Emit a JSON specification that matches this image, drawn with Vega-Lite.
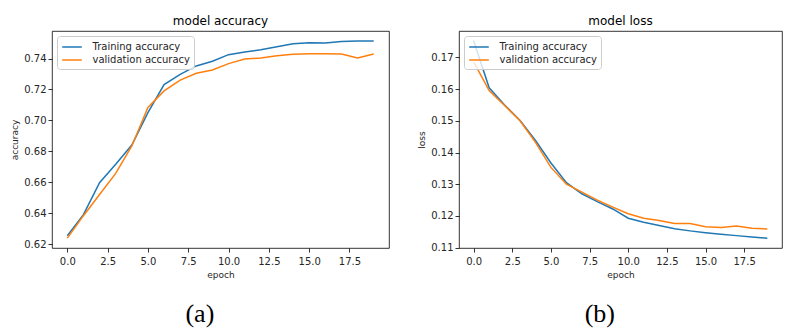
{
  "$schema": "https://vega.github.io/schema/vega-lite/v6.json",
  "padding": {"left": 10, "top": 14, "right": 2, "bottom": 0},
  "background": "white",
  "datasets": {
    "acc": [
      {"epoch": 0, "series": "Training accuracy", "value": 0.6254},
      {"epoch": 1, "series": "Training accuracy", "value": 0.6391},
      {"epoch": 2, "series": "Training accuracy", "value": 0.6597},
      {"epoch": 3, "series": "Training accuracy", "value": 0.6716},
      {"epoch": 4, "series": "Training accuracy", "value": 0.6841},
      {"epoch": 5, "series": "Training accuracy", "value": 0.7050},
      {"epoch": 6, "series": "Training accuracy", "value": 0.7232},
      {"epoch": 7, "series": "Training accuracy", "value": 0.7298},
      {"epoch": 8, "series": "Training accuracy", "value": 0.7352},
      {"epoch": 9, "series": "Training accuracy", "value": 0.7382},
      {"epoch": 10, "series": "Training accuracy", "value": 0.7425},
      {"epoch": 11, "series": "Training accuracy", "value": 0.7442},
      {"epoch": 12, "series": "Training accuracy", "value": 0.7457},
      {"epoch": 13, "series": "Training accuracy", "value": 0.7476},
      {"epoch": 14, "series": "Training accuracy", "value": 0.7495},
      {"epoch": 15, "series": "Training accuracy", "value": 0.7502},
      {"epoch": 16, "series": "Training accuracy", "value": 0.7500},
      {"epoch": 17, "series": "Training accuracy", "value": 0.7510},
      {"epoch": 18, "series": "Training accuracy", "value": 0.7514},
      {"epoch": 19, "series": "Training accuracy", "value": 0.7514},
      {"epoch": 0, "series": "validation accuracy", "value": 0.6239},
      {"epoch": 1, "series": "validation accuracy", "value": 0.6384},
      {"epoch": 2, "series": "validation accuracy", "value": 0.6521},
      {"epoch": 3, "series": "validation accuracy", "value": 0.6657},
      {"epoch": 4, "series": "validation accuracy", "value": 0.6835},
      {"epoch": 5, "series": "validation accuracy", "value": 0.7084},
      {"epoch": 6, "series": "validation accuracy", "value": 0.7191},
      {"epoch": 7, "series": "validation accuracy", "value": 0.7260},
      {"epoch": 8, "series": "validation accuracy", "value": 0.7305},
      {"epoch": 9, "series": "validation accuracy", "value": 0.7326},
      {"epoch": 10, "series": "validation accuracy", "value": 0.7367},
      {"epoch": 11, "series": "validation accuracy", "value": 0.7397},
      {"epoch": 12, "series": "validation accuracy", "value": 0.7403},
      {"epoch": 13, "series": "validation accuracy", "value": 0.7418},
      {"epoch": 14, "series": "validation accuracy", "value": 0.7427},
      {"epoch": 15, "series": "validation accuracy", "value": 0.7431},
      {"epoch": 16, "series": "validation accuracy", "value": 0.7431},
      {"epoch": 17, "series": "validation accuracy", "value": 0.7429},
      {"epoch": 18, "series": "validation accuracy", "value": 0.7403},
      {"epoch": 19, "series": "validation accuracy", "value": 0.7429}
    ],
    "loss": [
      {"epoch": 0, "series": "Training accuracy", "value": 0.1752},
      {"epoch": 1, "series": "Training accuracy", "value": 0.1604},
      {"epoch": 2, "series": "Training accuracy", "value": 0.1550},
      {"epoch": 3, "series": "Training accuracy", "value": 0.1501},
      {"epoch": 4, "series": "Training accuracy", "value": 0.1438},
      {"epoch": 5, "series": "Training accuracy", "value": 0.1367},
      {"epoch": 6, "series": "Training accuracy", "value": 0.1305},
      {"epoch": 7, "series": "Training accuracy", "value": 0.1270},
      {"epoch": 8, "series": "Training accuracy", "value": 0.1245},
      {"epoch": 9, "series": "Training accuracy", "value": 0.1222},
      {"epoch": 10, "series": "Training accuracy", "value": 0.1193},
      {"epoch": 11, "series": "Training accuracy", "value": 0.1180},
      {"epoch": 12, "series": "Training accuracy", "value": 0.1170},
      {"epoch": 13, "series": "Training accuracy", "value": 0.1160},
      {"epoch": 14, "series": "Training accuracy", "value": 0.1153},
      {"epoch": 15, "series": "Training accuracy", "value": 0.1147},
      {"epoch": 16, "series": "Training accuracy", "value": 0.1142},
      {"epoch": 17, "series": "Training accuracy", "value": 0.1138},
      {"epoch": 18, "series": "Training accuracy", "value": 0.1134},
      {"epoch": 19, "series": "Training accuracy", "value": 0.1130},
      {"epoch": 0, "series": "validation accuracy", "value": 0.1686},
      {"epoch": 1, "series": "validation accuracy", "value": 0.1595},
      {"epoch": 2, "series": "validation accuracy", "value": 0.1548},
      {"epoch": 3, "series": "validation accuracy", "value": 0.1500},
      {"epoch": 4, "series": "validation accuracy", "value": 0.1432},
      {"epoch": 5, "series": "validation accuracy", "value": 0.1353},
      {"epoch": 6, "series": "validation accuracy", "value": 0.1300},
      {"epoch": 7, "series": "validation accuracy", "value": 0.1275},
      {"epoch": 8, "series": "validation accuracy", "value": 0.1250},
      {"epoch": 9, "series": "validation accuracy", "value": 0.1228},
      {"epoch": 10, "series": "validation accuracy", "value": 0.1207},
      {"epoch": 11, "series": "validation accuracy", "value": 0.1193},
      {"epoch": 12, "series": "validation accuracy", "value": 0.1186},
      {"epoch": 13, "series": "validation accuracy", "value": 0.1176},
      {"epoch": 14, "series": "validation accuracy", "value": 0.1176},
      {"epoch": 15, "series": "validation accuracy", "value": 0.1166},
      {"epoch": 16, "series": "validation accuracy", "value": 0.1164},
      {"epoch": 17, "series": "validation accuracy", "value": 0.1168},
      {"epoch": 18, "series": "validation accuracy", "value": 0.1161},
      {"epoch": 19, "series": "validation accuracy", "value": 0.1159}
    ]
  },
  "spacing": 27,
  "hconcat": [
    {
      "title": {"text": "(a)", "orient": "bottom", "anchor": "middle", "font": "Liberation Serif", "fontSize": 26, "fontWeight": "normal", "color": "#000", "offset": 22},
      "vconcat": [
        {
          "data": {"name": "acc"},
          "width": 337,
          "height": 217,
          "title": {"text": "model accuracy", "offset": 3},
          "mark": {"type": "line", "strokeWidth": 1.5},
          "encoding": {
            "x": {"field": "epoch", "type": "quantitative", "title": "epoch",
                  "scale": {"domain": [-0.95, 19.95], "nice": false, "zero": false},
                  "axis": {"values": [0, 2.5, 5, 7.5, 10, 12.5, 15, 17.5], "format": ".1f", "labelPadding": 4, "titlePadding": 4}},
            "y": {"field": "value", "type": "quantitative", "title": "accuracy",
                  "scale": {"domain": [0.6175, 0.7578], "nice": false, "zero": false},
                  "axis": {"values": [0.62, 0.64, 0.66, 0.68, 0.70, 0.72, 0.74], "format": ".2f"}},
            "color": {"field": "series", "type": "nominal",
                      "scale": {"domain": ["Training accuracy", "validation accuracy"], "range": ["#1f77b4", "#ff7f0e"]},
                      "legend": {"title": null, "orient": "top-left", "offset": 5}}
          }
        }
      ]
    },
    {
      "title": {"text": "(b)", "orient": "bottom", "anchor": "middle", "font": "Liberation Serif", "fontSize": 26, "fontWeight": "normal", "color": "#000", "offset": 22},
      "vconcat": [
        {
          "data": {"name": "loss"},
          "width": 323,
          "height": 217,
          "title": {"text": "model loss", "offset": 3},
          "mark": {"type": "line", "strokeWidth": 1.5},
          "encoding": {
            "x": {"field": "epoch", "type": "quantitative", "title": "epoch",
                  "scale": {"domain": [-0.95, 19.95], "nice": false, "zero": false},
                  "axis": {"values": [0, 2.5, 5, 7.5, 10, 12.5, 15, 17.5], "format": ".1f", "labelPadding": 4, "titlePadding": 4}},
            "y": {"field": "value", "type": "quantitative", "title": "loss",
                  "scale": {"domain": [0.1099, 0.1783], "nice": false, "zero": false},
                  "axis": {"values": [0.11, 0.12, 0.13, 0.14, 0.15, 0.16, 0.17], "format": ".2f"}},
            "color": {"field": "series", "type": "nominal",
                      "scale": {"domain": ["Training accuracy", "validation accuracy"], "range": ["#1f77b4", "#ff7f0e"]},
                      "legend": {"title": null, "orient": "top-left", "offset": 5}}
          }
        }
      ]
    }
  ],
  "resolve": {"scale": {"color": "independent"}},
  "config": {
    "view": {"stroke": "#000", "strokeWidth": 0.8},
    "font": "DejaVu Sans",
    "title": {"font": "DejaVu Sans", "fontSize": 12, "fontWeight": "normal", "color": "#000"},
    "axis": {
      "domain": false, "grid": false,
      "tickColor": "#000", "tickSize": 4, "tickWidth": 0.8,
      "labelFont": "DejaVu Sans", "labelFontSize": 10, "labelColor": "#262626", "labelPadding": 2,
      "titleFont": "DejaVu Sans", "titleFontSize": 9, "titleFontWeight": "normal", "titleColor": "#262626", "titlePadding": 4
    },
    "legend": {
      "symbolType": "M-1.5,0H1.5", "symbolSize": 170, "symbolStrokeWidth": 1.5, "symbolOffset": 4,
      "labelFont": "DejaVu Sans", "labelFontSize": 10, "labelColor": "#262626", "labelOffset": 13,
      "padding": 3.5, "rowPadding": 0,
      "strokeColor": "#cccccc", "fillColor": "rgba(255,255,255,0.8)", "cornerRadius": 3
    }
  }
}
